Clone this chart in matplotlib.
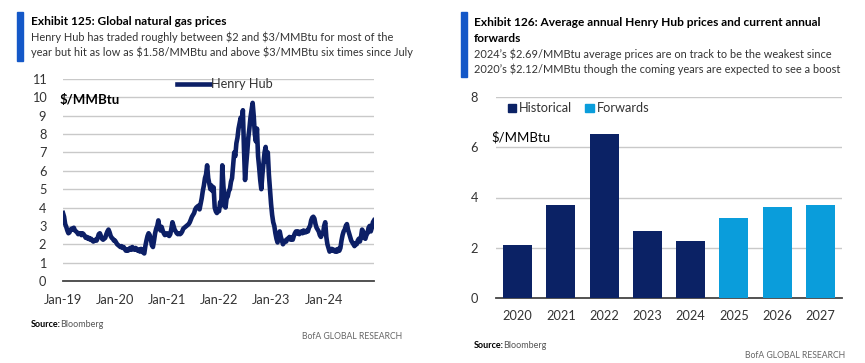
import matplotlib
matplotlib.use("Agg")
import matplotlib.pyplot as plt
from matplotlib.patches import Rectangle
import pandas as pd

# ---------------- data ----------------
hh_start = "2019-01-01"
hh_end = "2024-12-20"
henry_hub = [
    # 2019 (4 readings per month)
    3.7, 3.5, 3.1, 2.95, 2.75, 2.6, 2.65, 2.8, 2.85, 2.8, 2.9, 2.75,
    2.7, 2.65, 2.55, 2.6, 2.6, 2.5, 2.6, 2.55, 2.45, 2.35, 2.4, 2.3,
    2.35, 2.25, 2.3, 2.2, 2.15, 2.2, 2.25, 2.2, 2.35, 2.55, 2.6, 2.45,
    2.3, 2.25, 2.3, 2.35, 2.55, 2.7, 2.8, 2.65, 2.45, 2.35, 2.3, 2.2,
    # 2020
    2.2, 2.1, 2.0, 1.95, 1.9, 1.85, 1.9, 1.8, 1.85, 1.75, 1.65, 1.7,
    1.65, 1.75, 1.8, 1.7, 1.85, 1.75, 1.7, 1.8, 1.75, 1.65, 1.7, 1.6,
    1.75, 1.7, 1.55, 1.5, 1.9, 2.2, 2.45, 2.6, 2.5, 2.3, 1.95, 1.85,
    2.2, 2.6, 2.85, 3.0, 3.3, 2.9, 2.75, 2.95, 2.75, 2.6, 2.5, 2.55,
    # 2021
    2.6, 2.5, 2.45, 2.55, 2.85, 3.2, 3.0, 2.8, 2.7, 2.6, 2.55, 2.6,
    2.55, 2.6, 2.7, 2.85, 2.9, 2.95, 3.0, 3.05, 3.1, 3.2, 3.35, 3.5,
    3.6, 3.7, 3.9, 4.0, 4.05, 4.1, 3.9, 4.2, 4.5, 4.9, 5.2, 5.6,
    5.8, 6.3, 5.6, 5.3, 5.0, 5.2, 4.9, 5.1, 4.0, 3.8, 3.7, 3.9,
    # 2022
    3.8, 4.3, 4.1, 6.3, 5.2, 4.4, 4.0, 4.5, 4.6, 4.9, 5.0, 5.4,
    5.6, 6.3, 7.0, 6.8, 7.5, 7.8, 8.3, 8.6, 8.9, 8.6, 9.3, 7.2,
    5.5, 6.3, 7.0, 7.8, 8.3, 8.9, 9.3, 9.7, 9.0, 8.0, 7.6, 8.3,
    6.8, 6.2, 5.5, 5.0, 5.8, 6.4, 7.0, 7.3, 6.5, 7.0, 5.8, 5.0,
    # 2023
    4.2, 3.6, 3.2, 3.0, 2.6, 2.3, 2.1, 2.5, 2.7, 2.4, 2.2, 2.0,
    2.1, 2.2, 2.15, 2.3, 2.3, 2.4, 2.25, 2.35, 2.25, 2.45, 2.6, 2.7,
    2.6, 2.7, 2.55, 2.65, 2.7, 2.6, 2.75, 2.65, 2.65, 2.75, 2.7, 2.9,
    3.0, 3.3, 3.45, 3.5, 3.4, 3.1, 2.9, 2.8, 2.7, 2.5, 2.4, 2.55,
    # 2024
    2.6, 3.0, 3.2, 2.4, 2.0, 1.8, 1.6, 1.7, 1.75, 1.65, 1.7, 1.6,
    1.7, 1.6, 1.75, 1.65, 1.8, 2.2, 2.5, 2.7, 2.8, 3.0, 3.1, 2.8,
    2.6, 2.4, 2.2, 2.1, 2.0, 1.9, 2.05, 2.0, 2.2, 2.3, 2.15, 2.4,
    2.8, 2.7, 2.35, 2.3, 2.5, 2.6, 2.9, 3.0, 2.7, 2.9, 3.2, 3.3,
]
x_ticks_left = ["2019-01-01", "2020-01-01", "2021-01-01", "2022-01-01", "2023-01-01", "2024-01-01"]
x_ticklabels_left = ["Jan-19", "Jan-20", "Jan-21", "Jan-22", "Jan-23", "Jan-24"]

years = ["2020", "2021", "2022", "2023", "2024", "2025", "2026", "2027"]
annual_prices = [2.12, 3.71, 6.54, 2.65, 2.27, 3.18, 3.63, 3.70]
is_forward = [False, False, False, False, False, True, True, True]

# ---------------- style ----------------
plt.rcParams["font.family"] = ["Lato", "DejaVu Sans"]
NAVY = "#0c1f66"
BAR_DARK = "#0b2265"
BAR_LIGHT = "#0a9ddb"
ACCENT = "#1458c8"
TXT = "#333333"
GRID = "#c9c9c9"

W, H = 865, 363
fig = plt.figure(figsize=(W / 100, H / 100), dpi=100)
fig.patch.set_facecolor("white")


def fx(px):
    return px / W


def fy(py):
    return 1 - py / H


TITLE_FS = 8.6
SUB_FS = 7.9
TICK_FS = 9.2

# ---------------- headers ----------------
fig.patches.append(Rectangle((fx(17), fy(61)), fx(6), 49 / H, transform=fig.transFigure,
                             color=ACCENT, zorder=5))
fig.text(fx(31), fy(25), "Exhibit 125: Global natural gas prices", fontsize=TITLE_FS,
         fontweight="bold", color="black", va="baseline")
fig.text(fx(31), fy(41), "Henry Hub has traded roughly between \\$2 and \\$3/MMBtu for most of the",
         fontsize=SUB_FS, color=TXT, va="baseline")
fig.text(fx(31), fy(56), "year but hit as low as \\$1.58/MMBtu and above \\$3/MMBtu six times since July",
         fontsize=SUB_FS, color=TXT, va="baseline")

fig.patches.append(Rectangle((fx(461), fy(77)), fx(6), 65 / H, transform=fig.transFigure,
                             color=ACCENT, zorder=5))
fig.text(fx(474), fy(26), "Exhibit 126: Average annual Henry Hub prices and current annual",
         fontsize=TITLE_FS, fontweight="bold", color="black", va="baseline")
fig.text(fx(474), fy(42), "forwards", fontsize=TITLE_FS, fontweight="bold", color="black", va="baseline")
fig.text(fx(474), fy(58), "2024\u2019s \\$2.69/MMBtu average prices are on track to be the weakest since",
         fontsize=SUB_FS, color=TXT, va="baseline")
fig.text(fx(474), fy(73), "2020\u2019s \\$2.12/MMBtu though the coming years are expected to see a boost",
         fontsize=SUB_FS, color=TXT, va="baseline")

# ---------------- left chart ----------------
axL = fig.add_axes([fx(63), fy(281), fx(374 - 63), (281 - 79) / H])
dates = pd.date_range(hh_start, hh_end, periods=len(henry_hub))
axL.plot(dates, henry_hub, color=NAVY, lw=3.3, solid_joinstyle="round", label="Henry Hub", zorder=3)
axL.set_ylim(0, 11)
axL.set_yticks(range(0, 12))
axL.set_xlim(pd.Timestamp(hh_start), pd.Timestamp(hh_end))
axL.set_xticks(pd.to_datetime(x_ticks_left))
axL.set_xticklabels(x_ticklabels_left)
axL.grid(axis="y", color=GRID, lw=1)
axL.set_axisbelow(True)
for s in ["top", "right", "left"]:
    axL.spines[s].set_visible(False)
axL.spines["bottom"].set_color("#444444")
axL.spines["bottom"].set_linewidth(1.3)
axL.tick_params(length=0, labelsize=TICK_FS, colors=TXT, pad=9)
axL.tick_params(axis="y", pad=12)
axL.legend(loc="upper center", bbox_to_anchor=(0.52, 1.06), frameon=False, fontsize=TICK_FS,
           handlelength=2.6, handletextpad=0.1, labelcolor=TXT)
fig.text(fx(60), fy(104), "\\$/MMBtu", fontsize=9.5, fontweight="bold", color="black", va="baseline")

fig.text(fx(31), fy(327), "Source:", fontsize=6.5, fontweight="bold", color="black", va="baseline")
fig.text(fx(60), fy(327), "Bloomberg", fontsize=6.5, color="#555555", va="baseline")
fig.text(fx(402), fy(339), "BofA GLOBAL RESEARCH", fontsize=6.2, color="#666666", va="baseline", ha="right")

# ---------------- right chart ----------------
axR = fig.add_axes([fx(496), fy(298), fx(842 - 496), (298 - 97) / H])
xpos = range(len(years))
colors = [BAR_LIGHT if f else BAR_DARK for f in is_forward]
axR.bar(xpos, annual_prices, width=0.67, color=colors, zorder=3)
axR.set_xlim(-0.5, len(years) - 0.5)
axR.set_ylim(0, 8)
axR.set_yticks([0, 2, 4, 6, 8])
axR.set_xticks(list(xpos))
axR.set_xticklabels(years)
axR.grid(axis="y", color=GRID, lw=1)
axR.set_axisbelow(True)
for s in ["top", "right", "left"]:
    axR.spines[s].set_visible(False)
axR.spines["bottom"].set_color("#444444")
axR.spines["bottom"].set_linewidth(1.3)
axR.tick_params(length=0, labelsize=TICK_FS, colors=TXT, pad=9)
axR.tick_params(axis="y", pad=13)
hist_h = Rectangle((0, 0), 1, 1, color=BAR_DARK)
fwd_h = Rectangle((0, 0), 1, 1, color=BAR_LIGHT)
axR.legend([hist_h, fwd_h], ["Historical", "Forwards"], loc="upper left", bbox_to_anchor=(0.0, 1.03),
           ncol=2, frameon=False, fontsize=TICK_FS, handlelength=0.7, handleheight=0.7,
           handletextpad=0.2, columnspacing=1.0, labelcolor=TXT)
fig.text(fx(491), fy(142), "\\$/MMBtu", fontsize=9.5, color="black", va="baseline")

fig.text(fx(474), fy(348), "Source:", fontsize=6.5, fontweight="bold", color="black", va="baseline")
fig.text(fx(503), fy(348), "Bloomberg", fontsize=6.5, color="#555555", va="baseline")
fig.text(fx(845), fy(358), "BofA GLOBAL RESEARCH", fontsize=6.2, color="#666666", va="baseline", ha="right")

fig.savefig("out.png", dpi=100, facecolor="white")
